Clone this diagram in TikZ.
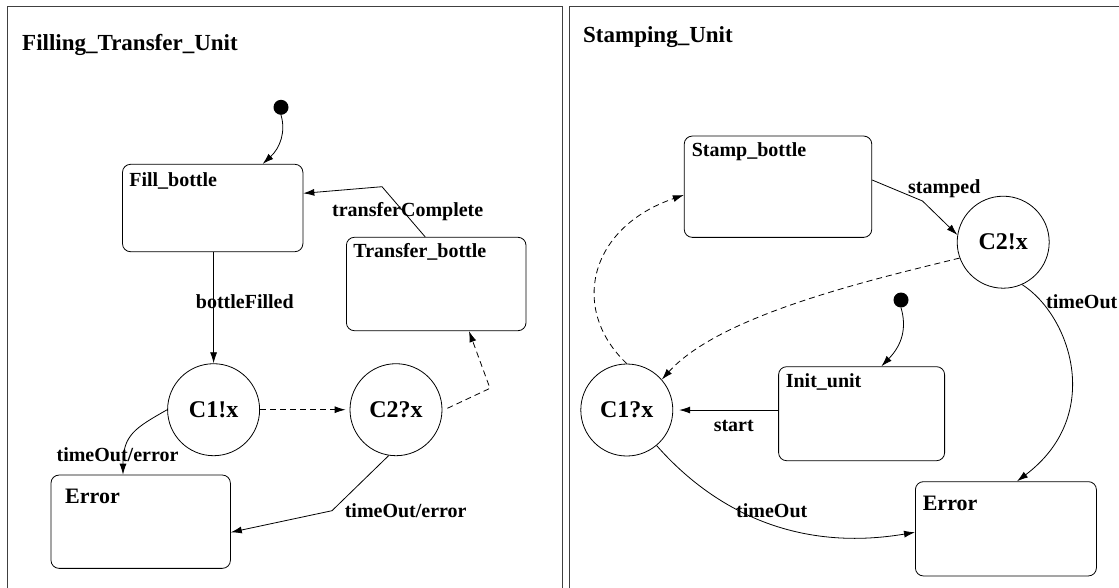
\documentclass[tikz,border=0pt]{standalone}
\usepackage{fontspec}
\setmainfont{Liberation Serif}
\usetikzlibrary{arrows.meta,calc}
\begin{document}
\begin{tikzpicture}[x=1pt,y=-1pt,
  lbl/.style={font=\fontsize{20}{24}\selectfont\bfseries, anchor=base west, inner sep=0pt},
  errlbl/.style={font=\fontsize{22}{26}\selectfont\bfseries, anchor=base west, inner sep=0pt},
  ttl/.style={font=\fontsize{23}{27}\selectfont\bfseries, anchor=base west, inner sep=0pt},
  statebox/.style={draw, rounded corners=8pt, line width=0.8pt, inner sep=0pt},
  chan/.style={draw, circle, line width=0.8pt, inner sep=0pt, minimum size=92pt,
    font=\fontsize{24}{28}\selectfont\bfseries},
  initdot/.style={fill, circle, inner sep=0pt, minimum size=15pt},
  tr/.style={line width=0.8pt, -{Latex[length=11pt,width=7pt]}},
  sync/.style={tr, dash pattern=on 6pt off 4pt},
  frame/.style={line width=1pt, black!75}]
\useasboundingbox (0,0) rectangle (1119,587);
\clip (0,0) rectangle (1119,587);

% panel frames
\draw[frame] (7,600) -- (7,6.7) -- (562.3,6.7) -- (562.3,600);
\draw[frame] (569,600) -- (569,6.7) -- (1130,6.7);

% ---------- Filling_Transfer_Unit ----------
\node[ttl] (ftuTitle) at (22,50) {Filling\_Transfer\_Unit};

\node[initdot] (dotL) at (281,107.3) {};
\node[statebox, minimum width=180.4pt, minimum height=87.4pt] (fill) at (212.7,208) {};
\node[lbl] (fillT) at ([shift={(7,22.4)}]fill.north west) {Fill\_bottle};
\node[statebox, minimum width=179.6pt, minimum height=93.4pt] (transfer) at (436.2,284) {};
\node[lbl] (transferT) at ([shift={(7.2,21)}]transfer.north west) {Transfer\_bottle};
\node[chan] (c1) at (213.6,409.7) {C1!x};
\node[chan] (c2) at (396,409.7) {C2?x};
\node[statebox, minimum width=179.4pt, minimum height=93.3pt] (errL) at (140.7,521.7) {};
\node[errlbl] (errLT) at ([shift={(14.4,29)}]errL.north west) {Error};

\coordinate (tcBend) at (382,186.7);
\coordinate (c2Bend) at (490,388.3);
\coordinate (c2Err) at (332,510.7);

\draw[tr] (dotL.south) .. controls (286,132) and (280,148) .. ([shift={(50,0)}]fill.north);
\draw[tr] ([shift={(-11,0)}]transfer.north) -- (tcBend) -- ([shift={(0,-14.7)}]fill.east);
\draw[tr] (c1.north |- fill.south) -- (c1.north);
\draw[sync, shorten >=4pt] (c1.east) -- (c2.west);
\draw[sync] ([shift={(5,-1.4)}]c2.east) -- (c2Bend) -- ([shift={(32.8,0)}]transfer.south);
\draw[tr] (c1.west) .. controls (135,428) and (123,435) .. ([shift={(-17.7,0)}]errL.north);
\draw[tr] (c2.-99) -- (c2Err) -- ([shift={(0,10.6)}]errL.east);

\node[lbl] (lTC) at (332,216) {transferComplete};
\node[lbl] (lBF) at (195.7,308) {bottleFilled};
\node[lbl] (lTE1) at (56.4,461.7) {timeOut/error};
\node[lbl] (lTE2) at (344.6,517.3) {timeOut/error};

% ---------- Stamping_Unit ----------
\node[ttl] (suTitle) at (583,42.7) {Stamping\_Unit};

\node[statebox, minimum width=187.5pt, minimum height=101.3pt] (stamp) at (778,186.7) {};
\node[lbl] (stampT) at ([shift={(7.7,20.7)}]stamp.north west) {Stamp\_bottle};
\node[chan] (c2r) at (1003.2,242.2) {C2!x};
\node[initdot] (dotR) at (901,300) {};
\node[statebox, minimum width=166pt, minimum height=94pt] (init) at (861.6,413.7) {};
\node[lbl] (initT) at ([shift={(7.4,21.6)}]init.north west) {Init\_unit};
\node[chan] (c1r) at (626.8,410) {C1?x};
\node[statebox, minimum width=181pt, minimum height=94.3pt] (errR) at (1005.9,528.8) {};
\node[errlbl] (errRT) at ([shift={(7.6,29)}]errR.north west) {Error};

\coordinate (stBend) at (922.5,201);

\draw[tr] ([shift={(0,-6.7)}]stamp.east) -- (stBend) -- (c2r.171);
\draw[sync] (c2r.200) .. controls (870,280) and (720,315) .. (c1r.41);
\draw[sync] (c1r.north) .. controls (570,310) and (588,228) .. ([shift={(0,8.3)}]stamp.west);
\draw[tr] (dotR.south) .. controls (907,328) and (902,345) .. ([shift={(19.8,0)}]init.north);
\draw[tr, shorten >=6pt] ([shift={(0,-3.7)}]init.west) -- (c1r.east);
\draw[tr] (c2r.-66) .. controls (1070,315) and (1105,415) .. ([shift={(11.1,0)}]errR.north);
\draw[tr] (c1r.-50) .. controls (700,495) and (780,555) .. ([shift={(0,3.5)}]errR.west);

\node[lbl] (lST) at (908,193.3) {stamped};
\node[lbl] (lTO1) at (1046,308) {timeOut};
\node[lbl] (lStart) at (713.6,431.7) {start};
\node[lbl] (lTO2) at (736,517.3) {timeOut};
\end{tikzpicture}
\end{document}
